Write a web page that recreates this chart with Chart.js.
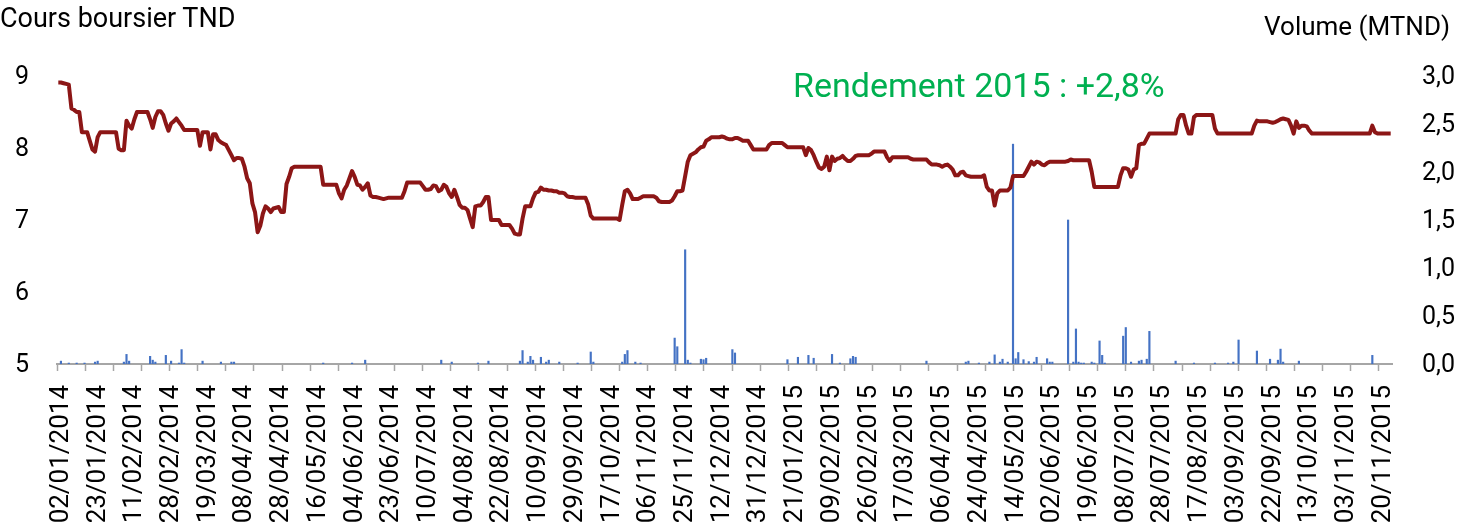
<!DOCTYPE html>
<html>
<head>
<meta charset="utf-8">
<script src="https://cdn.jsdelivr.net/npm/chart.js@4.4.1/dist/chart.umd.min.js"></script>
<style>
  html, body { margin: 0; padding: 0; background: #fff; }
  #wrap { position: relative; width: 1461px; height: 527px; overflow: hidden; }
  #c { position: absolute; left: 0; top: 0; }
  .t { position: absolute; font-family: Roboto, sans-serif; line-height: 1; white-space: nowrap; color: #000; }
</style>
</head>
<body>
<div id="wrap">
  <canvas id="c" width="1461" height="527"></canvas>
  <div class="t" style="left:0; top:5px; font-size:27px;">Cours boursier TND</div>
  <div class="t" style="right:11px; top:13px; font-size:26px;">Volume (MTND)</div>
  <div class="t" style="left:793px; top:68px; font-size:34px; color:#00B050;">Rendement 2015 : +2,8%</div>
</div>
<script>
// Daily closing price (TND), one value per trading session, 02/01/2014 .. end of Nov 2015
const price = [
  8.91, 8.91, 8.90, 8.89, 8.88, 8.55, 8.53, 8.50, 8.50, 8.22,
  8.22, 8.22, 8.10, 7.98, 7.95, 8.15, 8.22, 8.22, 8.22, 8.22,
  8.22, 8.22, 8.22, 7.99, 7.97, 7.97, 8.38, 8.31, 8.27, 8.40,
  8.50, 8.50, 8.50, 8.50, 8.50, 8.40, 8.28, 8.43, 8.51, 8.51,
  8.46, 8.34, 8.24, 8.34, 8.37, 8.41, 8.36, 8.31, 8.25, 8.25,
  8.25, 8.25, 8.25, 8.25, 8.03, 8.22, 8.22, 8.22, 7.98, 8.19,
  8.19, 8.11, 8.08, 8.06, 8.04, 7.97, 7.90, 7.83, 7.86, 7.86,
  7.85, 7.74, 7.58, 7.51, 7.23, 7.11, 6.83, 6.92, 7.09, 7.19,
  7.16, 7.11, 7.16, 7.17, 7.18, 7.11, 7.11, 7.50, 7.60, 7.72,
  7.74, 7.74, 7.74, 7.74, 7.74, 7.74, 7.74, 7.74, 7.74, 7.74,
  7.74, 7.49, 7.49, 7.49, 7.49, 7.49, 7.49, 7.37, 7.30, 7.42,
  7.48, 7.58, 7.68, 7.60, 7.49, 7.48, 7.42, 7.46, 7.51, 7.34,
  7.32, 7.32, 7.31, 7.30, 7.29, 7.30, 7.31, 7.31, 7.31, 7.31,
  7.31, 7.31, 7.40, 7.52, 7.52, 7.52, 7.52, 7.52, 7.52, 7.47,
  7.42, 7.42, 7.43, 7.48, 7.47, 7.40, 7.42, 7.49, 7.46, 7.37,
  7.32, 7.42, 7.32, 7.21, 7.17, 7.17, 7.14, 7.02, 6.90, 7.19,
  7.20, 7.20, 7.25, 7.32, 7.32, 7.00, 7.00, 7.00, 7.00, 6.93,
  6.93, 6.93, 6.93, 6.88, 6.81, 6.80, 6.80, 7.02, 7.19, 7.19,
  7.19, 7.30, 7.38, 7.39, 7.45, 7.42, 7.42, 7.41, 7.41, 7.40,
  7.40, 7.38, 7.38, 7.37, 7.33, 7.32, 7.32, 7.31, 7.31, 7.31,
  7.31, 7.31, 7.22, 7.06, 7.02, 7.02, 7.02, 7.02, 7.02, 7.02,
  7.02, 7.02, 7.02, 7.02, 7.00, 7.21, 7.40, 7.42, 7.37, 7.29,
  7.29, 7.29, 7.31, 7.33, 7.33, 7.33, 7.33, 7.33, 7.31, 7.26,
  7.25, 7.25, 7.25, 7.25, 7.27, 7.33, 7.40, 7.40, 7.41, 7.61,
  7.81, 7.90, 7.92, 7.94, 7.98, 8.01, 8.02, 8.10, 8.12, 8.15,
  8.15, 8.15, 8.15, 8.16, 8.15, 8.13, 8.12, 8.12, 8.14, 8.14,
  8.12, 8.10, 8.10, 8.10, 8.04, 7.98, 7.98, 7.98, 7.98, 7.98,
  7.98, 8.04, 8.07, 8.07, 8.07, 8.07, 8.07, 8.04, 8.01, 8.01,
  8.01, 8.01, 8.01, 8.01, 8.01, 7.90, 8.00, 7.97, 7.90, 7.81,
  7.73, 7.71, 7.74, 7.88, 7.69, 7.88, 7.82, 7.85, 7.86, 7.89,
  7.85, 7.82, 7.82, 7.85, 7.89, 7.90, 7.90, 7.90, 7.90, 7.90,
  7.92, 7.95, 7.95, 7.95, 7.95, 7.95, 7.87, 7.82, 7.87, 7.87,
  7.87, 7.87, 7.87, 7.87, 7.87, 7.85, 7.84, 7.84, 7.84, 7.84,
  7.84, 7.84, 7.80, 7.77, 7.77, 7.77, 7.76, 7.74, 7.76, 7.77,
  7.74, 7.70, 7.62, 7.62, 7.66, 7.67, 7.62, 7.61, 7.60, 7.60,
  7.60, 7.60, 7.60, 7.62, 7.46, 7.41, 7.41, 7.20, 7.37, 7.41,
  7.41, 7.41, 7.41, 7.45, 7.61, 7.61, 7.61, 7.61, 7.61, 7.67,
  7.74, 7.81, 7.77, 7.81, 7.80, 7.77, 7.76, 7.79, 7.81, 7.81,
  7.81, 7.81, 7.81, 7.81, 7.81, 7.82, 7.84, 7.83, 7.83, 7.83,
  7.83, 7.83, 7.83, 7.83, 7.67, 7.46, 7.46, 7.46, 7.46, 7.46,
  7.46, 7.46, 7.46, 7.46, 7.46, 7.62, 7.72, 7.72, 7.70, 7.60,
  7.70, 7.72, 8.04, 8.06, 8.06, 8.13, 8.20, 8.20, 8.20, 8.20,
  8.20, 8.20, 8.20, 8.20, 8.20, 8.20, 8.20, 8.40, 8.46, 8.46,
  8.31, 8.20, 8.20, 8.43, 8.46, 8.46, 8.46, 8.46, 8.46, 8.46,
  8.46, 8.27, 8.20, 8.20, 8.20, 8.20, 8.20, 8.20, 8.20, 8.20,
  8.20, 8.20, 8.20, 8.20, 8.20, 8.20, 8.31, 8.38, 8.37, 8.37,
  8.37, 8.37, 8.36, 8.35, 8.36, 8.38, 8.40, 8.41, 8.40, 8.39,
  8.31, 8.20, 8.37, 8.28, 8.31, 8.31, 8.30, 8.24, 8.20, 8.20,
  8.20, 8.20, 8.20, 8.20, 8.20, 8.20, 8.20, 8.20, 8.20, 8.20,
  8.20, 8.20, 8.20, 8.20, 8.20, 8.20, 8.20, 8.20, 8.20, 8.20,
  8.20, 8.31, 8.22, 8.20, 8.20, 8.20, 8.20, 8.20, 8.20
];

// Traded volume (MTND): session index and amount, for sessions with trades shown
const volumeDay = [
  1, 4, 7, 10, 14, 15, 25, 26, 27, 35, 36, 37, 41, 43, 46, 47, 48, 55, 62, 66,
  67, 101, 112, 117, 146, 150, 160, 164, 176, 177, 179, 180, 181, 184, 186, 187, 191, 198, 203, 204,
  215, 216, 217, 220, 222, 235, 236, 239, 240, 241, 245, 246, 247, 257, 258, 278, 282, 286, 288, 295,
  298, 302, 303, 304, 331, 346, 347, 351, 355, 357, 359, 360, 362, 364, 365, 366, 368, 370, 372, 373,
  377, 378, 379, 385, 387, 388, 389, 390, 391, 394, 395, 397, 398, 399, 406, 407, 409, 412, 413, 415,
  416, 426, 433, 441, 446, 448, 450, 457, 462, 465, 466, 467, 473, 501
];
const volumeValue = [
  0.03, 0.01, 0.01, 0.01, 0.02, 0.03, 0.02, 0.10, 0.03, 0.08, 0.04, 0.02, 0.09, 0.03, 0.01, 0.15, 0.01, 0.03, 0.02, 0.02,
  0.02, 0.01, 0.01, 0.04, 0.04, 0.02, 0.01, 0.03, 0.03, 0.14, 0.02, 0.08, 0.04, 0.07, 0.02, 0.04, 0.02, 0.01, 0.125, 0.02,
  0.02, 0.10, 0.14, 0.02, 0.01, 0.27, 0.18, 1.19, 0.04, 0.01, 0.05, 0.045, 0.06, 0.15, 0.115, 0.045, 0.07, 0.09, 0.06, 0.10,
  0.01, 0.055, 0.08, 0.07, 0.03, 0.02, 0.03, 0.01, 0.02, 0.095, 0.02, 0.05, 0.02, 2.29, 0.055, 0.12, 0.045, 0.025, 0.02, 0.07,
  0.055, 0.02, 0.02, 1.50, 0.02, 0.365, 0.02, 0.01, 0.01, 0.02, 0.01, 0.24, 0.09, 0.01, 0.29, 0.38, 0.02, 0.03, 0.04, 0.05,
  0.34, 0.03, 0.01, 0.01, 0.01, 0.02, 0.25, 0.135, 0.05, 0.04, 0.155, 0.02, 0.03, 0.09
];

// Date labels, one every 14 sessions
const dateLabels = [
  '02/01/2014', '23/01/2014', '11/02/2014', '28/02/2014', '19/03/2014', '08/04/2014', '28/04/2014',
  '16/05/2014', '04/06/2014', '23/06/2014', '10/07/2014', '04/08/2014', '22/08/2014', '10/09/2014',
  '29/09/2014', '17/10/2014', '06/11/2014', '25/11/2014', '12/12/2014', '31/12/2014', '21/01/2015',
  '09/02/2015', '26/02/2015', '17/03/2015', '06/04/2015', '24/04/2015', '14/05/2015', '02/06/2015',
  '19/06/2015', '08/07/2015', '28/07/2015', '17/08/2015', '03/09/2015', '22/09/2015', '13/10/2015',
  '03/11/2015', '20/11/2015'
];
const labelStep = 14;
const priceTicks = [5, 6, 7, 8, 9];
const volumeTicks = [0, 0.5, 1, 1.5, 2, 2.5, 3];

// Axis tick marks: 48 marks spread over the labelled span
const markCount = 47;
const markSpan = labelStep * (dateLabels.length - 1);

const axisGrey = '#A6A6A6';
Chart.defaults.font.family = 'Roboto, sans-serif';
Chart.defaults.color = '#000';

new Chart(document.getElementById('c'), {
  data: {
    datasets: [
      {
        type: 'line',
        label: 'Cours',
        data: price.map((v, i) => ({ x: i, y: v })),
        yAxisID: 'y',
        borderColor: '#8C1616',
        borderWidth: 4,
        borderJoinStyle: 'round',
        pointRadius: 0,
        tension: 0,
        order: 1
      },
      {
        type: 'bar',
        label: 'Volume',
        data: volumeDay.map((d, k) => ({ x: d, y: volumeValue[k] })),
        yAxisID: 'y1',
        backgroundColor: '#4472C4',
        barThickness: 1.5,
        order: 2
      }
    ]
  },
  options: {
    responsive: false,
    animation: false,
    events: [],
    layout: { padding: { top: 76, left: 0, right: 0, bottom: 0 } },
    plugins: { legend: { display: false }, tooltip: { enabled: false } },
    scales: {
      x: {
        type: 'linear',
        position: 'bottom',
        min: -0.5,
        max: price.length - 0.5,
        offset: false,
        afterBuildTicks(scale) {
          const t = dateLabels.map((d, k) => ({ value: k * labelStep, txt: d }));
          for (let k = 0; k <= markCount; k++) {
            t.push({ value: -0.5 + k * markSpan / markCount, mark: true });
          }
          scale.ticks = t;
        },
        ticks: {
          autoSkip: false,
          maxRotation: 90,
          minRotation: 90,
          padding: 14,
          labelOffset: 3,
          font: { size: 26 },
          color: '#000',
          callback(v, i, ticks) { return ticks[i].txt || ''; }
        },
        grid: {
          display: true,
          offset: false,
          drawOnChartArea: false,
          drawTicks: true,
          tickLength: 7,
          tickWidth: 1.5,
          tickColor(ctx) { return ctx.tick && ctx.tick.mark ? axisGrey : 'rgba(0,0,0,0)'; }
        },
        border: { display: true, color: axisGrey, width: 2 },
        afterFit(scale) { scale.height = 163; }
      },
      y: {
        position: 'left',
        min: 5,
        max: 9,
        afterBuildTicks(scale) { scale.ticks = priceTicks.map(v => ({ value: v })); },
        ticks: { padding: 28, labelOffset: 2, font: { size: 25 }, color: '#000' },
        grid: { display: false, drawTicks: false },
        border: { display: false },
        afterFit(scale) { scale.width = 57; }
      },
      y1: {
        position: 'right',
        min: 0,
        max: 3,
        afterBuildTicks(scale) { scale.ticks = volumeTicks.map(v => ({ value: v })); },
        ticks: {
          padding: 30,
          labelOffset: 2,
          font: { size: 25 },
          color: '#000',
          callback(v) { return v.toFixed(1).replace('.', ','); }
        },
        grid: { display: false, drawTicks: false },
        border: { display: false },
        afterFit(scale) { scale.width = 69; }
      }
    }
  }
});
</script>
</body>
</html>
